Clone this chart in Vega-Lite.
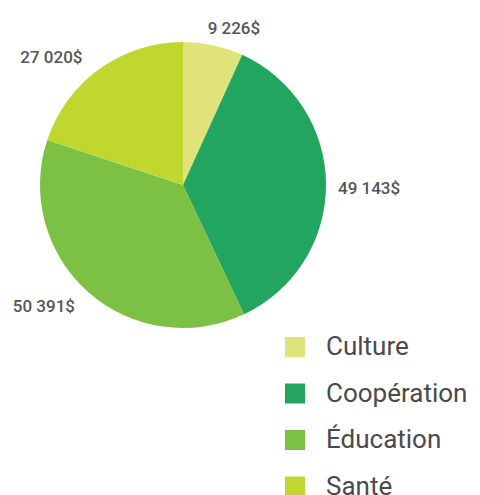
{
  "$schema": "https://vega.github.io/schema/vega-lite/v6.json",
  "width": 366,
  "height": 370,
  "padding": 0,
  "background": "white",
  "data": {
    "values": [
      {"secteur": "Culture", "montant": 9226, "etiquette": "9 226$", "ordre": 1},
      {"secteur": "Coopération", "montant": 49143, "etiquette": "49 143$", "ordre": 2},
      {"secteur": "Éducation", "montant": 50391, "etiquette": "50 391$", "ordre": 3},
      {"secteur": "Santé", "montant": 27020, "etiquette": "27 020$", "ordre": 4}
    ]
  },
  "encoding": {
    "theta": {"field": "montant", "type": "quantitative", "stack": true},
    "order": {"field": "ordre", "type": "quantitative"}
  },
  "layer": [
    {
      "mark": {"type": "arc", "outerRadius": 143},
      "encoding": {
        "color": {
          "field": "secteur",
          "type": "nominal",
          "sort": ["Culture", "Coopération", "Éducation", "Santé"],
          "scale": {
            "domain": ["Culture", "Coopération", "Éducation", "Santé"],
            "range": ["#dfe37a", "#22a55e", "#7cc143", "#c0d72f"]
          },
          "legend": {
            "title": null,
            "orient": "none",
            "legendX": 282,
            "legendY": 334,
            "symbolType": "square",
            "symbolSize": 400,
            "symbolStrokeWidth": 0,
            "labelFontSize": 26,
            "labelFont": "Roboto",
            "labelColor": "#4a4a4a",
            "labelOffset": 18,
            "rowPadding": 20.5
          }
        }
      }
    },
    {
      "mark": {"type": "text", "radius": 160, "font": "Roboto", "fontWeight": 500, "fontSize": 17, "color": "#555555", "dx": 17, "dy": 0},
      "encoding": {"text": {"condition": {"test": "datum.secteur === 'Culture'", "field": "etiquette"}, "value": ""}}
    },
    {
      "mark": {"type": "text", "radius": 155, "font": "Roboto", "fontWeight": 500, "fontSize": 17, "color": "#555555", "align": "left", "dy": 5},
      "encoding": {"text": {"condition": {"test": "datum.secteur === 'Coopération'", "field": "etiquette"}, "value": ""}}
    },
    {
      "mark": {"type": "text", "radius": 160, "font": "Roboto", "fontWeight": 500, "fontSize": 17, "color": "#555555", "dx": -33, "dy": 2},
      "encoding": {"text": {"condition": {"test": "datum.secteur === 'Éducation'", "field": "etiquette"}, "value": ""}}
    },
    {
      "mark": {"type": "text", "radius": 160, "font": "Roboto", "fontWeight": 500, "fontSize": 17, "color": "#555555", "dx": -38, "dy": 3},
      "encoding": {"text": {"condition": {"test": "datum.secteur === 'Santé'", "field": "etiquette"}, "value": ""}}
    }
  ]
}
